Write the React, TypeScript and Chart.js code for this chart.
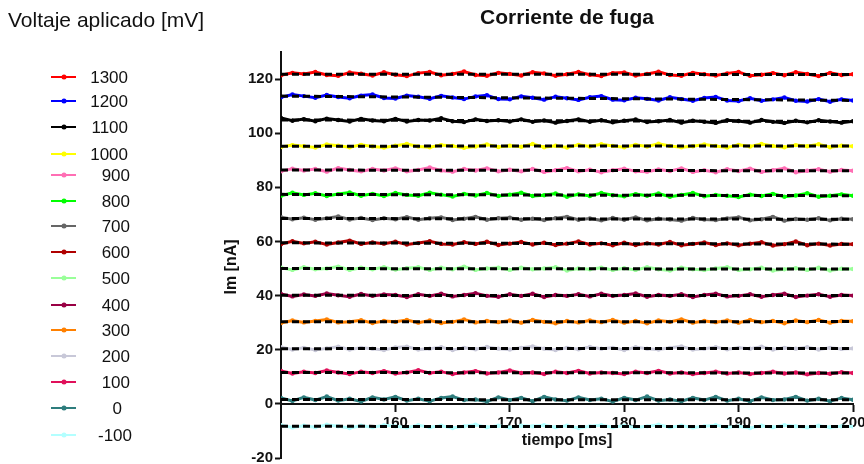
import { useEffect, useRef } from "react";
import { Chart, registerables } from "chart.js";

Chart.register(...registerables);

// Sampling times of the recorded current traces (ms)
const tiempoMs = [
  150, 151, 152, 153, 154, 155, 156, 157, 158, 159,
  160, 161, 162, 163, 164, 165, 166, 167, 168, 169,
  170, 171, 172, 173, 174, 175, 176, 177, 178, 179,
  180, 181, 182, 183, 184, 185, 186, 187, 188, 189,
  190, 191, 192, 193, 194, 195, 196, 197, 198, 199,
  200,
];

// Applied voltage of each trace (mV)
const voltajes = ["1300", "1200", "1100", "1000", "900", "800", "700", "600", "500", "400", "300", "200", "100", "0", "-100"];

const colores = [
  "#ff0000", "#0000ff", "#000000", "#ffff00", "#ff6eb4",
  "#00ff00", "#666666", "#b00000", "#99ff99", "#990044",
  "#ff8000", "#c8c8d8", "#e0105a", "#2e7d7d", "#b3ffff",
];

// Leak current traces (nA)
const im1300 = [
  121.4, 122.3, 121.9, 122.6, 121.5, 121.2, 122.4, 122.0, 121.3, 122.5,
  121.6, 121.1, 122.2, 122.6, 121.4, 121.9, 122.8, 121.5, 121.2, 122.3,
  121.9, 121.3, 122.5, 122.1, 121.2, 121.8, 122.6, 121.6, 121.1, 122.2,
  122.4, 121.3, 121.9, 122.7, 121.5, 121.2, 122.3, 121.8, 121.3, 122.1,
  122.6, 121.2, 121.6, 122.2, 121.4, 122.5, 121.9, 121.1, 122.3, 121.5,
  121.8,
];
const im1200 = [
  113.3, 114.3, 113.7, 113.1, 114.1, 113.4, 112.9, 113.9, 114.3, 113.0,
  112.8, 113.9, 113.5, 112.7, 113.8, 113.2, 112.6, 113.6, 114.0, 112.6,
  112.5, 113.6, 113.1, 112.4, 113.5, 112.9, 112.3, 113.3, 113.7, 112.4,
  112.2, 113.1, 112.7, 112.1, 113.3, 112.6, 112.0, 113.0, 113.4, 112.1,
  111.9, 112.9, 112.0, 112.5, 113.2, 112.0, 111.7, 112.6, 111.6, 112.5,
  112.1,
];
const im1100 = [
  105.6, 104.6, 105.2, 104.4, 105.4, 104.9, 104.3, 105.3, 104.7, 104.4,
  105.3, 104.3, 104.9, 104.7, 105.5, 104.4, 104.1, 105.1, 104.5, 104.8,
  104.3, 105.1, 104.2, 104.7, 103.9, 104.5, 105.1, 104.2, 104.8, 104.0,
  104.6, 105.1, 104.1, 104.4, 104.9, 103.9, 104.6, 104.2, 103.8, 104.8,
  104.5, 103.9, 104.9, 104.2, 103.8, 104.6, 104.0, 104.8, 104.3, 103.9,
  104.4,
];
const im1000 = [
  94.9, 95.6, 95.2, 94.7, 95.8, 95.4, 94.8, 95.7, 95.1, 94.7,
  95.4, 96.0, 95.1, 94.8, 95.6, 95.3, 94.6, 95.1, 95.8, 94.9,
  95.4, 95.0, 96.0, 94.8, 95.4, 94.7, 95.7, 95.1, 95.9, 95.3,
  94.8, 95.7, 95.1, 96.1, 95.3, 94.8, 95.2, 95.8, 95.3, 94.7,
  95.7, 95.1, 96.0, 95.3, 94.8, 95.6, 95.2, 95.9, 94.8, 95.4,
  95.2,
];
const im900 = [
  85.9, 86.9, 86.2, 86.8, 85.8, 87.1, 86.4, 85.9, 86.8, 86.2,
  87.0, 85.9, 86.4, 87.3, 86.2, 85.8, 86.8, 86.2, 87.0, 85.9,
  86.5, 85.9, 86.8, 85.7, 86.3, 87.1, 85.9, 86.5, 85.6, 86.3,
  86.9, 85.9, 85.8, 86.6, 86.0, 87.0, 85.7, 86.3, 85.6, 86.7,
  86.0, 86.9, 85.7, 86.3, 87.0, 85.6, 86.1, 86.7, 85.8, 86.4,
  86.1,
];
const im800 = [
  76.9, 78.0, 77.2, 77.8, 76.8, 77.5, 78.1, 76.9, 77.6, 76.8,
  77.9, 77.2, 76.9, 78.0, 77.3, 76.6, 77.6, 77.0, 77.9, 76.8,
  77.3, 78.0, 76.8, 77.1, 77.7, 76.5, 77.4, 76.8, 77.9, 77.1,
  76.7, 77.5, 76.9, 77.7, 76.5, 77.2, 77.9, 76.7, 77.2, 76.9,
  76.4, 77.3, 76.8, 77.6, 76.5, 77.0, 77.8, 76.5, 76.9, 77.4,
  76.9,
];
const im700 = [
  69.0, 68.2, 68.8, 68.0, 68.6, 69.2, 68.1, 68.7, 67.9, 68.6,
  68.2, 69.0, 68.0, 68.6, 68.9, 67.9, 68.4, 69.1, 68.0, 68.6,
  68.8, 68.0, 68.4, 67.9, 68.6, 69.1, 68.0, 68.5, 67.8, 68.7,
  68.0, 68.9, 67.8, 68.4, 68.1, 67.7, 68.7, 68.1, 67.9, 68.5,
  68.9, 67.8, 68.2, 69.1, 67.7, 68.3, 68.0, 68.6, 67.8, 68.4,
  68.2,
];
const im600 = [
  59.0, 60.1, 59.3, 59.9, 58.9, 59.6, 60.3, 59.1, 59.6, 59.2,
  59.9, 58.9, 59.4, 60.1, 59.1, 58.9, 59.7, 59.1, 59.9, 58.7,
  59.2, 59.8, 58.9, 59.5, 58.7, 59.2, 60.0, 58.9, 59.3, 58.6,
  59.5, 58.7, 59.3, 58.9, 59.8, 58.6, 59.1, 59.6, 58.7, 59.3,
  58.6, 59.2, 59.7, 58.5, 59.0, 60.0, 58.6, 59.2, 58.5, 59.1,
  59.0,
];
const im500 = [
  50.3, 49.5, 50.5, 49.7, 50.0, 50.7, 49.5, 50.3, 49.7, 50.5,
  49.6, 50.1, 50.5, 49.5, 50.3, 49.7, 50.7, 49.5, 50.0, 50.3,
  49.5, 50.3, 49.7, 50.0, 50.5, 49.3, 50.0, 49.7, 50.3, 49.5,
  50.1, 49.5, 50.5, 49.7, 49.3, 50.3, 49.7, 49.5, 50.0, 50.5,
  49.5, 49.7, 50.3, 49.3, 49.7, 50.1, 49.5, 50.3, 49.3, 49.9,
  49.8,
];
const im400 = [
  40.6, 39.7, 40.4, 39.9, 40.8, 40.1, 39.6, 40.6, 39.9, 40.4,
  40.2, 39.5, 40.5, 39.9, 40.7, 39.7, 40.2, 40.9, 39.9, 39.6,
  40.5, 39.9, 40.7, 39.5, 40.2, 39.9, 40.5, 39.7, 40.7, 39.9,
  40.2, 40.8, 39.6, 40.2, 39.9, 40.5, 39.5, 40.2, 40.7, 39.7,
  39.9, 40.5, 39.6, 40.2, 40.7, 39.5, 40.0, 40.5, 39.6, 40.2,
  40.0,
];
const im300 = [
  29.9, 30.8, 30.1, 30.6, 31.2, 30.1, 30.3, 30.9, 29.9, 30.6,
  30.3, 31.0, 30.0, 30.8, 29.9, 30.3, 31.2, 30.1, 30.6, 30.2,
  30.8, 30.0, 31.0, 30.3, 29.8, 30.6, 30.1, 30.8, 30.2, 31.0,
  30.0, 30.6, 29.8, 30.8, 30.3, 31.2, 30.0, 30.6, 30.2, 30.8,
  30.0, 31.0, 30.2, 30.6, 29.8, 30.8, 30.2, 31.0, 30.0, 30.6,
  30.5,
];
const im200 = [
  20.9, 20.1, 20.7, 19.9, 20.5, 21.1, 20.1, 20.7, 20.4, 19.9,
  20.8, 21.1, 20.1, 20.4, 20.9, 19.9, 20.7, 20.2, 21.0, 20.4,
  20.1, 20.7, 21.2, 20.4, 19.9, 20.7, 20.2, 21.0, 20.4, 20.7,
  19.9, 20.9, 20.4, 20.1, 20.7, 21.2, 20.1, 20.4, 20.9, 20.2,
  20.7, 20.4, 21.1, 20.1, 20.7, 20.4, 20.9, 20.1, 20.7, 20.3,
  20.5,
];
const im100 = [
  12.2, 11.2, 11.9, 11.4, 12.3, 11.6, 11.0, 11.9, 11.4, 12.1,
  11.2, 11.6, 12.4, 11.4, 11.9, 11.0, 11.6, 12.1, 11.2, 11.6,
  12.3, 11.4, 11.6, 11.0, 11.9, 11.4, 12.2, 11.2, 11.6, 11.4,
  11.0, 11.9, 11.4, 12.2, 11.2, 11.6, 11.0, 11.4, 11.9, 11.2,
  11.6, 11.0, 11.4, 11.9, 11.2, 11.6, 10.9, 11.4, 11.1, 11.7,
  11.4,
];
const im0 = [
  2.2, 1.1, 2.4, 1.4, 2.7, 1.2, 1.9, 0.9, 2.4, 1.6,
  2.6, 1.2, 1.9, 1.0, 2.2, 2.7, 1.4, 1.6, 0.9, 2.4,
  1.4, 2.2, 1.0, 2.6, 1.6, 1.2, 2.4, 1.4, 1.9, 0.9,
  2.2, 1.4, 2.7, 1.2, 1.6, 1.0, 2.2, 1.4, 2.6, 1.2,
  1.9, 1.0, 2.4, 1.4, 1.6, 2.6, 1.2, 1.9, 1.0, 2.2,
  1.5,
];
const imMenos100 = [
  -7.9, -8.7, -8.1, -8.6, -7.7, -8.3, -8.9, -8.1, -8.6, -7.9,
  -8.3, -8.7, -7.9, -8.6, -8.1, -8.9, -8.3, -7.7, -8.6, -8.1,
  -8.7, -8.1, -8.3, -7.9, -8.6, -8.1, -8.9, -8.3, -7.9, -8.6,
  -8.1, -8.7, -8.3, -7.7, -8.6, -8.1, -8.7, -8.3, -7.9, -8.6,
  -8.3, -8.9, -8.1, -8.6, -7.9, -8.3, -8.7, -8.1, -8.6, -8.3,
  -8.4,
];

const trazas = [im1300, im1200, im1100, im1000, im900, im800, im700, im600, im500, im400, im300, im200, im100, im0, imMenos100];

// Fitted leak current at both ends of the window (nA)
const ajusteInicio = [121.8, 113.7, 104.9, 95.2, 86.4, 77.4, 68.5, 59.5, 50.0, 40.1, 30.3, 20.4, 11.6, 1.6, -8.3];
const ajusteFin = [121.7, 112.1, 104.3, 95.3, 86.1, 76.9, 68.2, 59.0, 49.8, 40.0, 30.4, 20.5, 11.4, 1.5, -8.4];

const yTicks = [-20, 0, 20, 40, 60, 80, 100, 120];
const xTicks = [160, 170, 180, 190, 200];

const FUENTE = "'Liberation Sans', Arial, Helvetica, sans-serif";
const TINTA = "#111111";

// Legend row centres and the right edge of each row's label
const filasLeyenda = [77, 101, 127, 154, 175, 201, 226, 252, 278, 305, 330, 356, 382, 408, 435];
const bordeTexto = [128, 128, 128, 128, 130, 130, 130, 130, 130, 130, 130, 130, 130, 122, 132];

const leyendaPlugin = {
  id: "leyendaVoltajes",
  afterDraw(chart: any) {
    const ctx = chart.ctx as CanvasRenderingContext2D;
    ctx.save();
    ctx.fillStyle = TINTA;
    ctx.font = `21px ${FUENTE}`;
    ctx.textAlign = "left";
    ctx.textBaseline = "alphabetic";
    ctx.fillText("Voltaje aplicado [mV]", 8, 27);

    ctx.font = `17px ${FUENTE}`;
    ctx.textAlign = "right";
    voltajes.forEach((v, i) => {
      const y = filasLeyenda[i];
      const c = colores[i];
      ctx.strokeStyle = c;
      ctx.lineWidth = 2;
      ctx.beginPath();
      ctx.moveTo(51, y);
      ctx.lineTo(76, y);
      ctx.stroke();
      ctx.fillStyle = c;
      ctx.beginPath();
      ctx.arc(64, y, 2.5, 0, Math.PI * 2);
      ctx.fill();
      ctx.fillStyle = TINTA;
      ctx.fillText(v, bordeTexto[i], y + 6);
    });
    ctx.restore();
  },
};

const titulosPlugin = {
  id: "titulos",
  afterDraw(chart: any) {
    const ctx = chart.ctx as CanvasRenderingContext2D;
    const area = chart.chartArea;
    const cx = (area.left + area.right) / 2;
    ctx.save();
    ctx.fillStyle = TINTA;
    ctx.textAlign = "center";
    ctx.textBaseline = "middle";
    ctx.font = `bold 21px ${FUENTE}`;
    ctx.fillText("Corriente de fuga", cx, 18);
    ctx.font = `bold 16px ${FUENTE}`;
    ctx.fillText("tiempo [ms]", cx, 441);
    ctx.translate(232, 267);
    ctx.rotate(-Math.PI / 2);
    ctx.fillText("Im [nA]", 0, 0);
    ctx.restore();
  },
};

export default function App() {
  const canvasRef = useRef<HTMLCanvasElement | null>(null);

  useEffect(() => {
    document.body.style.margin = "0";
    const canvas = canvasRef.current;
    if (!canvas) return;

    const datasetsTrazas = trazas.map((serie, i) => ({
      label: voltajes[i],
      data: serie.map((y, k) => ({ x: tiempoMs[k], y })),
      borderColor: colores[i],
      backgroundColor: colores[i],
      borderWidth: 3,
      pointRadius: 2.2,
      pointBorderWidth: 0,
      pointBackgroundColor: colores[i],
      tension: 0,
      order: 2,
    }));

    const datasetsAjuste = ajusteInicio.map((y0, i) => ({
      label: `ajuste ${voltajes[i]}`,
      data: [
        { x: tiempoMs[0], y: y0 },
        { x: tiempoMs[tiempoMs.length - 1], y: ajusteFin[i] },
      ],
      borderColor: "#000000",
      borderWidth: 3,
      borderDash: [7, 4],
      pointRadius: 0,
      order: 1,
    }));

    const chart = new Chart(canvas, {
      type: "line",
      data: { datasets: [...datasetsTrazas, ...datasetsAjuste] as any },
      options: {
        animation: false,
        responsive: false,
        events: [],
        layout: { padding: { left: 200, right: 11, top: 52, bottom: 6 } },
        plugins: {
          legend: { display: false },
          tooltip: { enabled: false },
          title: { display: false },
        },
        scales: {
          x: {
            type: "linear",
            min: 150,
            max: 200,
            position: { y: 0 } as any,
            afterFit: (s: any) => {
              s.paddingLeft = 0;
              s.paddingRight = 0;
            },
            afterBuildTicks: (s: any) => {
              s.ticks = xTicks.map((v) => ({ value: v }));
            },
            ticks: {
              color: TINTA,
              font: { family: FUENTE, size: 15, weight: "bold" },
              padding: 3,
              maxRotation: 0,
              autoSkip: false,
            },
            grid: {
              drawOnChartArea: false,
              drawTicks: true,
              tickLength: 7,
              tickWidth: 2,
              tickColor: TINTA,
            },
            border: { display: true, color: TINTA, width: 2 },
          },
          y: {
            type: "linear",
            min: -20,
            max: 130,
            position: "left",
            afterFit: (s: any) => {
              s.width = 81;
              s.paddingTop = 0;
              s.paddingBottom = 0;
            },
            afterBuildTicks: (s: any) => {
              s.ticks = yTicks.map((v) => ({ value: v }));
            },
            ticks: {
              color: TINTA,
              font: { family: FUENTE, size: 15, weight: "bold" },
              padding: 2,
            },
            grid: {
              drawOnChartArea: false,
              drawTicks: true,
              tickLength: 6,
              tickWidth: 2,
              tickColor: TINTA,
            },
            border: { display: true, color: TINTA, width: 2 },
          },
        },
      },
      plugins: [leyendaPlugin, titulosPlugin],
    });

    return () => chart.destroy();
  }, []);

  return (
    <div style={{ width: 864, height: 464, background: "#ffffff" }}>
      <canvas ref={canvasRef} width={864} height={464} style={{ display: "block" }} />
    </div>
  );
}
